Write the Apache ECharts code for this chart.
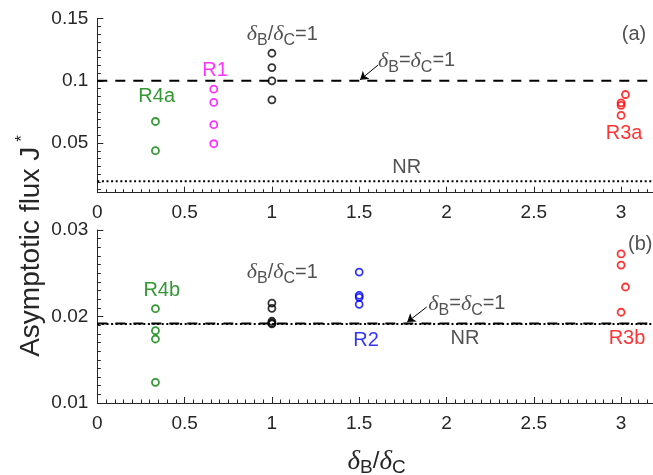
<!DOCTYPE html>
<html>
<head>
<meta charset="utf-8">
<script src="https://cdn.jsdelivr.net/npm/echarts@6/dist/echarts.min.js"></script>
<style>
  html, body { margin: 0; padding: 0; background: #fff; }
  #chart { width: 653px; height: 475px; }
</style>
</head>
<body>
<div id="chart"></div>
<script>
// ---- values (x = delta_B / delta_C, y = asymptotic flux J*) ----
// panel (a)
const r4a = [[0.333, 0.0673], [0.333, 0.0438]];
const r1 = [[0.667, 0.0933], [0.667, 0.0826], [0.667, 0.0647], [0.667, 0.0494]];
const equalA = [[1, 0.1222], [1, 0.1107], [1, 0.1000], [1, 0.0847]];
const r3a = [[3.025, 0.0890], [3, 0.0823], [3, 0.0803], [3, 0.0722]];
const equalLevelA = 0.1;
const nrLevelA = 0.0192;

// panel (b)
const r4b = [[0.333, 0.0209], [0.333, 0.01836], [0.333, 0.0174], [0.333, 0.01239]];
const equalB = [[1, 0.02155], [1, 0.02095], [1, 0.01945], [1, 0.01925], [1, 0.01915]];
const r2 = [[1.5, 0.02514], [1.5, 0.02245], [1.5, 0.02222], [1.5, 0.02141]];
const r3b = [[3, 0.02723], [3, 0.02595], [3.025, 0.02341], [3, 0.02049]];
const equalLevelB = 0.0192;
const nrLevelB = 0.01913;

// axis ranges and tick labels
const xRange = [0, 3.2];
const xTickLabels = [0, 0.5, 1, 1.5, 2, 2.5, 3];
const yRangeA = [0.01, 0.15];
const yTickLabelsA = [0.05, 0.1, 0.15];
const yRangeB = [0.01, 0.03];
const yTickLabelsB = [0.01, 0.02, 0.03];

// ---- styling ----
const FONT = "'Liberation Sans', Arial, Helvetica, sans-serif";
const SERIF = "'Liberation Serif', 'DejaVu Serif', serif";
const INK = '#262626';
const GREEN = '#008000', MAGENTA = '#ff00ff', RED = '#ff0000', BLUE = '#0000ff', BLACK = '#000000';

function minorSteps(lo, hi, step) {
  const out = [];
  const n = Math.round((hi - lo) / step);
  for (let i = 0; i <= n; i++) out.push(+(lo + i * step).toFixed(6));
  return out;
}

const deltaRich = {
  d: { fontFamily: SERIF, fontStyle: 'italic', fontSize: 22, color: INK },
  s: { fontFamily: FONT, fontSize: 16, color: INK, padding: [13, 0, 0, 0] },
  n: { fontFamily: FONT, fontSize: 20, color: INK }
};
const ratioText = '{d|δ}{s|B}{n|/}{d|δ}{s|C}{n|=1}';
const equalText = '{d|δ}{s|B}{n|=}{d|δ}{s|C}{n|=1}';

function xAxisFor(grid, showName) {
  const ax = {
    type: 'value', gridIndex: grid, min: xRange[0], max: xRange[1], interval: 0.5,
    axisLine: { show: true, onZero: false, lineStyle: { color: INK, width: 1 } },
    axisTick: { show: true, inside: true, length: 6, lineStyle: { color: INK } },
    minorTick: { show: true, splitNumber: 10, length: 3.5, lineStyle: { color: INK } },
    splitLine: { show: false },
    axisLabel: { customValues: xTickLabels, color: INK, fontFamily: FONT, fontSize: 19, margin: 11 }
  };
  if (showName) {
    ax.name = '{d|δ}{s|B}{n|/}{d|δ}{s|C}';
    ax.nameLocation = 'middle';
    ax.nameGap = 43;
    ax.nameTextStyle = {
      rich: {
        d: { fontFamily: SERIF, fontStyle: 'italic', fontSize: 27, color: INK },
        s: { fontFamily: FONT, fontSize: 19, color: INK, padding: [12, 0, 0, 0] },
        n: { fontFamily: FONT, fontSize: 24, color: INK }
      }
    };
  }
  return ax;
}

function yAxesFor(grid, range, labels, minor) {
  return [
    {
      type: 'value', gridIndex: grid, position: 'left', min: range[0], max: range[1],
      axisLine: { show: true, onZero: false, lineStyle: { color: INK, width: 1 } },
      axisTick: { show: true, inside: true, length: 6, customValues: labels, lineStyle: { color: INK } },
      splitLine: { show: false },
      axisLabel: { customValues: labels, color: INK, fontFamily: FONT, fontSize: 19, margin: 9 }
    },
    {
      type: 'value', gridIndex: grid, position: 'left', min: range[0], max: range[1],
      axisLine: { show: false },
      axisTick: { show: true, inside: true, length: 3.5, customValues: minor, lineStyle: { color: INK } },
      splitLine: { show: false },
      axisLabel: { show: false }
    }
  ];
}

function points(name, data, color, xi, yi) {
  return {
    name, type: 'scatter', xAxisIndex: xi, yAxisIndex: yi, data,
    symbol: 'circle', symbolSize: 7, silent: true,
    itemStyle: { color: 'rgba(0,0,0,0)', borderColor: color, borderWidth: 1.8 },
    emphasis: { disabled: true }, z: 5
  };
}

function level(name, y, dash, xi, yi) {
  return {
    name, type: 'line', xAxisIndex: xi, yAxisIndex: yi,
    data: [[xRange[0], y], [xRange[1], y]],
    symbol: 'none', silent: true,
    lineStyle: { color: BLACK, width: 2, type: dash },
    emphasis: { disabled: true }, z: 3
  };
}

// pointer from a note to the level it names
function pointer(xi, yi, from, to) {
  return {
    type: 'lines', coordinateSystem: 'cartesian2d', xAxisIndex: xi, yAxisIndex: yi,
    silent: true, z: 6,
    symbol: ['none', 'arrow'], symbolSize: 8,
    lineStyle: { color: BLACK, width: 1, opacity: 1 },
    data: [{ coords: [from, to] }]
  };
}

function note(value, text, color, position, rich) {
  return {
    value,
    label: {
      show: true, position, distance: 0, formatter: text,
      color, fontFamily: FONT, fontSize: 20, rich
    }
  };
}

function notes(xi, yi, data) {
  return {
    type: 'scatter', xAxisIndex: xi, yAxisIndex: yi, data, symbolSize: 0,
    silent: true, clip: false, z: 6, emphasis: { disabled: true }
  };
}

const chart = echarts.init(document.getElementById('chart'), null, { renderer: 'canvas' });

chart.setOption({
  backgroundColor: '#ffffff',
  animation: false,
  grid: [
    { left: 97.3, right: -3, top: 18.7, height: 174, outerBoundsMode: 'none', containLabel: false },
    { left: 97.3, right: -3, top: 230, height: 173, outerBoundsMode: 'none', containLabel: false }
  ],
  xAxis: [xAxisFor(0, false), xAxisFor(1, true)],
  yAxis: [
    ...yAxesFor(0, yRangeA, yTickLabelsA, minorSteps(0.0125, 0.15, 0.00625)),
    ...yAxesFor(1, yRangeB, yTickLabelsB, minorSteps(0.01, 0.03, 0.001))
  ],
  graphic: [
    {
      type: 'text', x: 31, y: 246, rotation: Math.PI / 2, silent: true,
      style: {
        text: '{m|Asymptotic flux J}{p|*}',
        align: 'center', verticalAlign: 'middle',
        rich: {
          m: { fontFamily: FONT, fontSize: 28, fill: INK, color: INK },
          p: { fontFamily: FONT, fontSize: 17, fill: INK, color: INK, padding: [0, 0, 18, 5] }
        }
      }
    }
  ],
  series: [
    // panel (a)
    level('equal (a)', equalLevelA, [10, 8], 0, 0),
    level('NR (a)', nrLevelA, [2, 2.6], 0, 0),
    pointer(0, 0, [1.609, 0.1128], [1.505, 0.1008]),
    points('R4a', r4a, GREEN, 0, 0),
    points('R1', r1, MAGENTA, 0, 0),
    points('ratio 1 (a)', equalA, BLACK, 0, 0),
    points('R3a', r3a, RED, 0, 0),
    notes(0, 0, [
      note([0.856, 0.1377], ratioText, INK, 'right', deltaRich),
      note([0.674, 0.1084], 'R1', MAGENTA, 'inside'),
      note([0.340, 0.0872], 'R4a', GREEN, 'inside'),
      note([3.074, 0.1377], '(a)', INK, 'inside'),
      note([1.608, 0.1160], equalText, INK, 'right', deltaRich),
      note([3.017, 0.0579], 'R3a', RED, 'inside'),
      note([1.772, 0.0306], 'NR', INK, 'inside')
    ]),
    // panel (b)
    level('equal (b)', equalLevelB, [10, 8], 1, 2),
    level('NR (b)', nrLevelB, [2, 2.6], 1, 2),
    pointer(1, 2, [1.887, 0.02110], [1.775, 0.01935]),
    points('R4b', r4b, GREEN, 1, 2),
    points('ratio 1 (b)', equalB, BLACK, 1, 2),
    points('R2', r2, BLUE, 1, 2),
    points('R3b', r3b, RED, 1, 2),
    notes(1, 2, [
      note([3.110, 0.02827], '(b)', INK, 'inside'),
      note([0.369, 0.02300], 'R4b', GREEN, 'inside'),
      note([0.856, 0.02514], ratioText, INK, 'right', deltaRich),
      note([1.539, 0.01728], 'R2', BLUE, 'inside'),
      note([2.106, 0.01748], 'NR', INK, 'inside'),
      note([3.034, 0.01746], 'R3b', RED, 'inside'),
      note([1.896, 0.02145], equalText, INK, 'right', deltaRich)
    ])
  ]
});
</script>
</body>
</html>
